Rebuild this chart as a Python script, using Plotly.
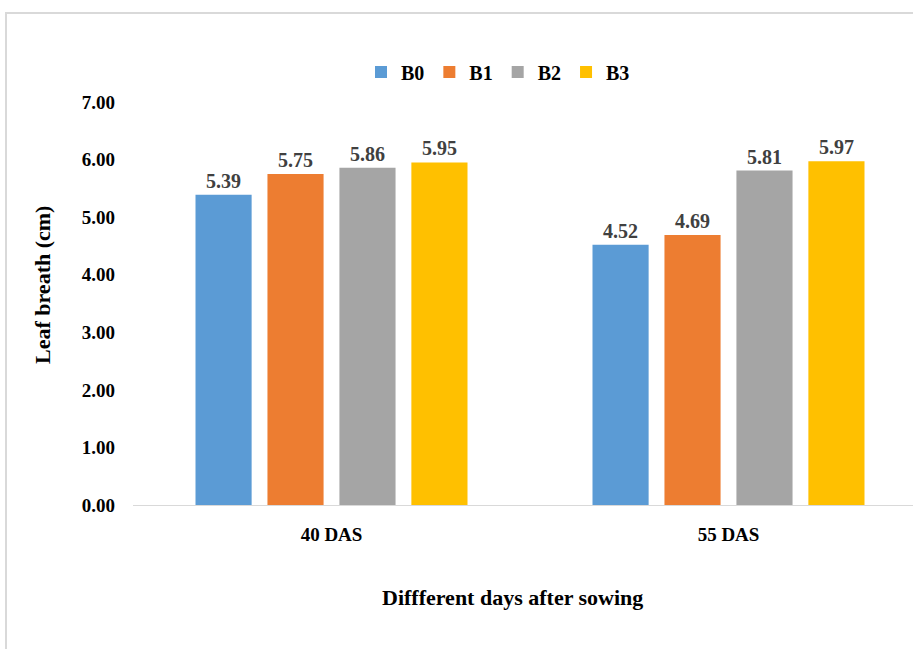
import plotly.graph_objects as go

categories = ["40 DAS", "55 DAS"]
series_names = ["B0", "B1", "B2", "B3"]
b0 = [5.39, 4.52]
b1 = [5.75, 4.69]
b2 = [5.86, 5.81]
b3 = [5.95, 5.97]
colors = ["#5B9BD5", "#ED7D31", "#A5A5A5", "#FFC000"]
y_ticks = [0, 1, 2, 3, 4, 5, 6, 7]

FONT = "Liberation Serif"
W, H = 913, 649
L, R, T, B = 133, 0, 102, 144
pw = W - L - R
ph = H - T - B

def px_x(px):
    return (px - L) / pw

def px_y(py):
    return (H - B - py) / ph

fig = go.Figure()
for name, vals, col in zip(series_names, [b0, b1, b2, b3], colors):
    fig.add_trace(go.Bar(
        x=categories, y=vals, name=name,
        marker=dict(color=col, line=dict(width=0)),
        text=[f"{v:.2f}" for v in vals],
        textposition="outside",
        textfont=dict(family=FONT, size=20, color="#404040", weight="bold"),
        cliponaxis=False,
    ))

# category spacing ~397 px
span = pw / 397.0
fig.update_layout(
    width=W, height=H,
    margin=dict(l=L, r=R, t=T, b=B),
    paper_bgcolor="white", plot_bgcolor="white",
    barmode="group", bargap=0.275, bargroupgap=0.22,
    font=dict(family=FONT, size=18, color="black"),
    showlegend=True,
    legend=dict(
        orientation="h", x=px_x(498), y=px_y(72), xanchor="center", yanchor="middle",
        font=dict(family=FONT, size=20, color="black", weight="bold"),
        itemwidth=30, traceorder="normal",
    ),
    xaxis=dict(
        type="category", range=[-0.5, -0.5 + span],
        showline=True, linecolor="#D9D9D9", linewidth=1,
        showgrid=False, ticks="", ticklabelstandoff=12,
        tickfont=dict(family=FONT, size=19, color="black", weight="bold"),
        fixedrange=True,
    ),
    yaxis=dict(
        range=[0, 7], tickvals=y_ticks, tickformat=".2f",
        showgrid=False, zeroline=False, showline=False,
        ticks="", ticklabelstandoff=17,
        tickfont=dict(family=FONT, size=19, color="black", weight="bold"),
        fixedrange=True,
    ),
    annotations=[
        dict(text="Leaf breath (cm)", textangle=-90, xref="paper", yref="paper",
             x=px_x(42), y=px_y(285), xanchor="center", yanchor="middle", showarrow=False,
             font=dict(family=FONT, size=22, color="black", weight="bold")),
        dict(text="Diffferent days after sowing", xref="paper", yref="paper",
             x=px_x(512), y=px_y(597), xanchor="center", yanchor="middle", showarrow=False,
             font=dict(family=FONT, size=22, color="black", weight="bold")),
    ],
    shapes=[
        dict(type="rect", xref="paper", yref="paper",
             x0=px_x(6), x1=px_x(1000), y0=px_y(800), y1=px_y(13),
             line=dict(color="#D9D9D9", width=2), fillcolor="rgba(0,0,0,0)", layer="below"),
    ],
)

fig.write_html("out.html")
